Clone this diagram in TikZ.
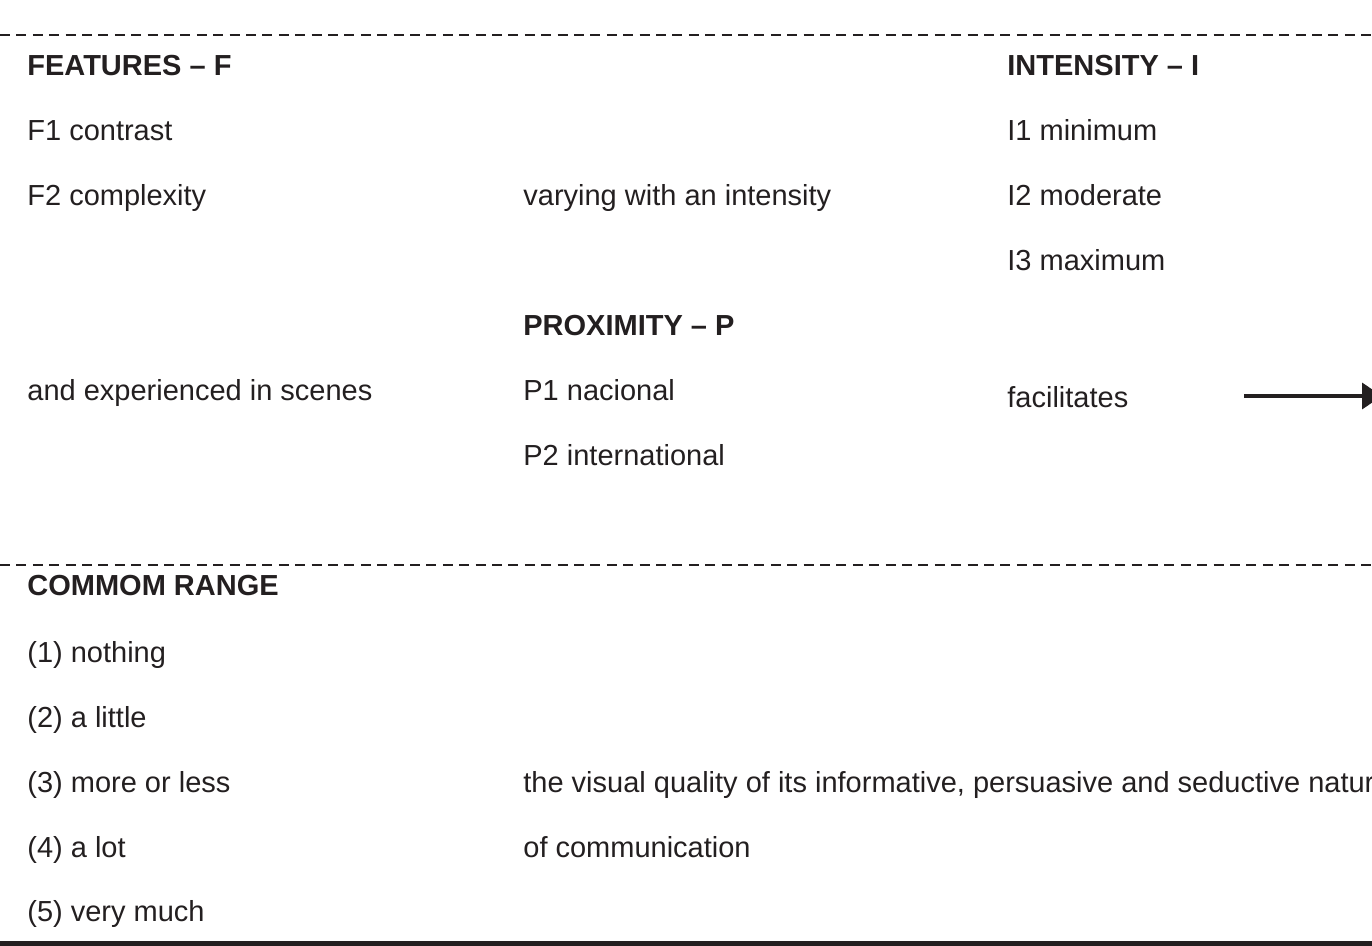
\documentclass[tikz,border=0pt]{standalone}
\usepackage{fontspec}
\setmainfont{Liberation Sans}
\usetikzlibrary{arrows.meta}

\definecolor{ink}{HTML}{231F20}

\tikzset{
    txt/.style={anchor=base west, inner sep=0pt, text=ink,
        font=\fontsize{14.5}{17}\selectfont},
    head/.style={txt, font=\fontsize{14.5}{17}\selectfont\bfseries},
    sep/.style={ink, line width=1pt, dash pattern=on 5pt off 3.2pt},
}

\begin{document}
\begin{tikzpicture}[x=0.5pt, y=-0.5pt]
    \useasboundingbox (0,0) rectangle (1372,946);

    % separators
    \draw[sep] (0,35) -- (1372,35);
    \draw[sep] (0,565) -- (1372,565);
    \draw[ink, line width=2.5pt] (0,943) -- (1372,943);

    % features
    \node[head] (feat) at (27,76) {FEATURES -- F};
    \node[txt] (f1) at (27,141) {F1 contrast};
    \node[txt] (f2) at (27,206) {F2 complexity};
    \node[txt] (scenes) at (27,401) {and experienced in scenes};

    % middle column
    \node[txt] (vary) at (523,206) {varying with an intensity};
    \node[head] (prox) at (523,336) {PROXIMITY -- P};
    \node[txt] (p1) at (523,401) {P1 nacional};
    \node[txt] (p2) at (523,466) {P2 international};

    % intensity
    \node[head] (inten) at (1007,76) {INTENSITY -- I};
    \node[txt] (i1) at (1007,141) {I1 minimum};
    \node[txt] (i2) at (1007,206) {I2 moderate};
    \node[txt] (i3) at (1007,271) {I3 maximum};
    \node[txt] (fac) at (1007,408) {facilitates};

    \coordinate (arrA) at (1244,396);
    \coordinate (arrB) at (1382,396);
    \draw[ink, line width=1.8pt, -{Triangle[length=10pt,width=13pt]}] (arrA) -- (arrB);

    % range
    \node[head] (range) at (27,596) {COMMOM RANGE};
    \node[txt] (r1) at (27,662) {(1) nothing};
    \node[txt] (r2) at (27,727) {(2) a little};
    \node[txt] (r3) at (27,792) {(3) more or less};
    \node[txt] (r4) at (27,857) {(4) a lot};
    \node[txt] (r5) at (27,921) {(5) very much};

    \node[txt] (qual) at (523,792) {the visual quality of its informative, persuasive and seductive nature};
    \node[txt] (comm) at (523,857) {of communication};
\end{tikzpicture}
\end{document}
